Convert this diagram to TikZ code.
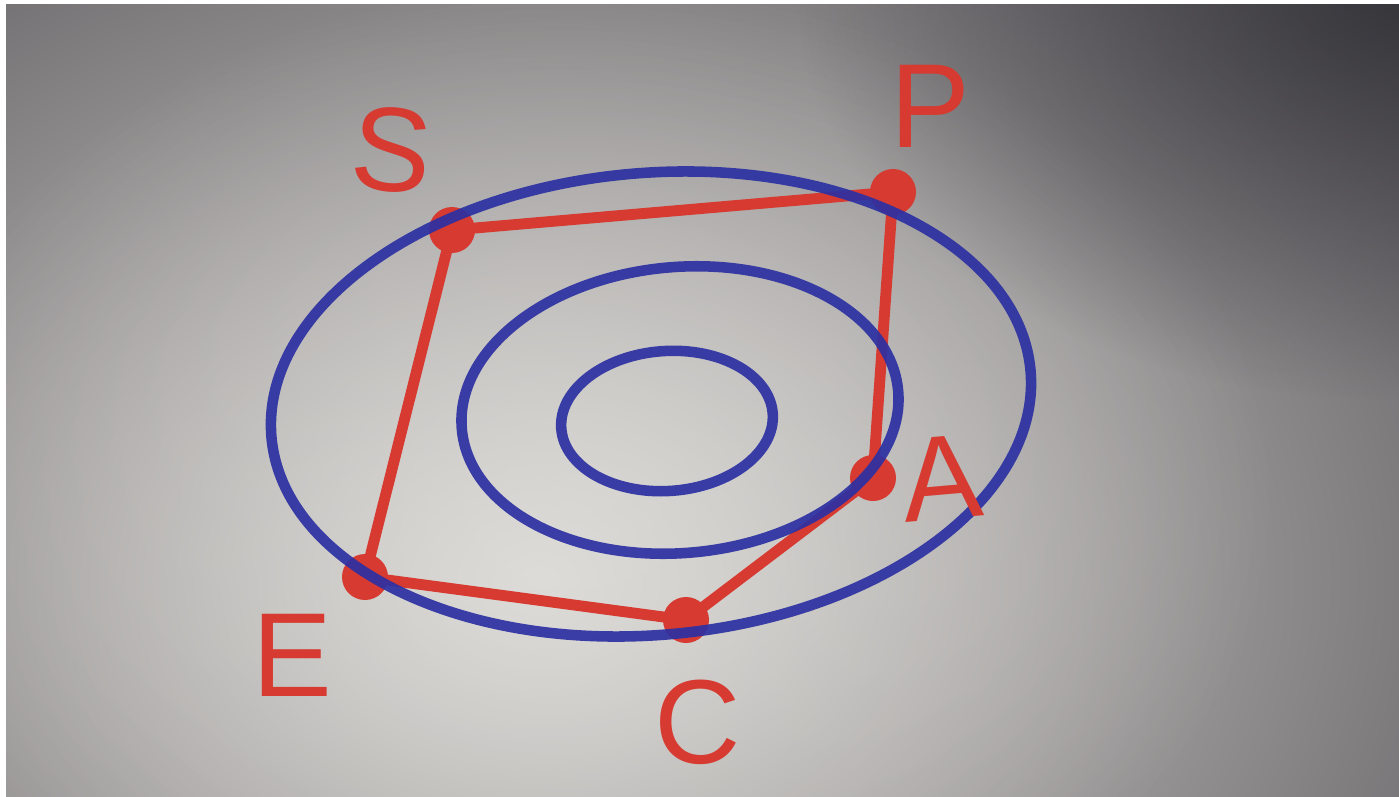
\documentclass[tikz,border=0pt]{standalone}
\usepackage{fontspec}
\setmainfont{Liberation Sans}
\usetikzlibrary{fadings}
\definecolor{paperdark}{RGB}{96,93,97}
\definecolor{paper}{RGB}{222,220,216}
\definecolor{shadow}{RGB}{38,38,44}
\definecolor{ink}{RGB}{44,48,162}
\definecolor{marker}{RGB}{214,58,48}
\tikzfading[name=radfade, inner color=transparent!0, outer color=transparent!100]
\tikzset{
  blueink/.style={draw=ink, line width=3pt, opacity=0.92},
  redink/.style={draw=marker, line width=3.1pt, line cap=round, line join=round},
  dot/.style={circle, fill=marker, inner sep=0pt, minimum size=46*0.01cm},
  letter/.style={text=marker, font=\fontsize{34}{36}\selectfont}
}
\begin{document}
\begin{tikzpicture}[x=0.01cm, y=-0.01cm]
\useasboundingbox (0,0) rectangle (1399,797);
% background paper (photo vignette)
\fill[paperdark] (0,0) rectangle (1399,797);
\begin{scope}
\clip (0,0) rectangle (1399,797);
\fill[paper, path fading=radfade] (540,580) ellipse [x radius=1150, y radius=850];
\fill[paper, path fading=radfade, opacity=0.6] (580,500) ellipse [x radius=700, y radius=520];
\fill[shadow, path fading=radfade, opacity=0.7] (1399,0) ellipse [x radius=600, y radius=400];
\end{scope}
\fill[white] (0,0) rectangle (1399,4);
\fill[white] (0,0) rectangle (6,797);
% red pentagon
\node[dot] (s) at (452,230) {};
\node[dot] (p) at (893,192) {};
\node[dot] (a) at (873,478) {};
\node[dot] (c) at (686,620) {};
\node[dot] (e) at (365,577) {};
\draw[redink] (s.center) -- (p.center) -- (a.center) -- (c.center) -- (e.center) -- cycle;
% blue ellipses
\draw[blueink] (651,404) ellipse [x radius=381, y radius=231, rotate=5];
\draw[blueink] (680,410) ellipse [x radius=219, y radius=143, rotate=5];
\draw[blueink] (667,421) ellipse [x radius=106, y radius=70, rotate=4];
% labels
\node[letter, rotate=-5] (ls) at (392,150) {S};
\node[letter] (lp) at (930,106) {P};
\node[letter, rotate=5] (la) at (942,478) {A};
\node[letter] (le) at (292,655) {E};
\node[letter] (lc) at (698,722) {C};
\end{tikzpicture}
\end{document}
